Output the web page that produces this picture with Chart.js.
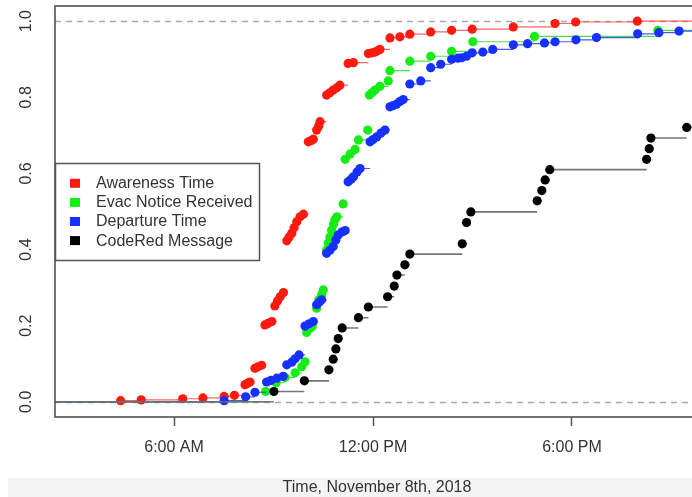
<!DOCTYPE html>
<html><head><meta charset="utf-8">
<script src="https://cdn.jsdelivr.net/npm/chart.js@4/dist/chart.umd.min.js"></script>
<style>
html,body{margin:0;padding:0;background:#fff;overflow:hidden;width:692px;height:497px;}
#wrap{position:absolute;left:0;top:0;width:720px;height:497px;}
</style></head><body>
<div id="wrap"><canvas id="c" width="720" height="497"></canvas></div>
<script>
// ---- data (time in decimal hours, Nov 8th 2018; value = cumulative share) ----
const seriesNames = ['Awareness Time', 'Evac Notice Received', 'Departure Time', 'CodeRed Message'];

const awarenessTimes = [4.39,5.01,6.26,6.87,7.51,7.82,8.14,8.22,8.29,8.44,8.53,8.64,8.74,8.83,8.95,9.04,9.12,9.20,9.30,
  9.40,9.47,9.55,9.62,9.70,9.80,9.90,10.05,10.13,10.20,10.30,10.36,10.40,10.60,10.70,10.80,10.91,11.00,11.25,11.41,
  11.86,11.97,12.06,12.15,12.21,12.51,12.81,13.11,13.74,14.37,14.99,16.23,17.49,18.11,19.97];
const awarenessShare = [0.003,0.005,0.008,0.010,0.014,0.017,0.045,0.049,0.052,0.088,0.092,0.096,0.202,0.206,0.211,0.252,0.265,0.276,0.287,
  0.423,0.433,0.443,0.457,0.473,0.486,0.493,0.683,0.686,0.690,0.714,0.724,0.736,0.806,0.812,0.819,0.825,0.832,0.889,0.891,
  0.915,0.917,0.919,0.923,0.926,0.956,0.959,0.966,0.972,0.976,0.979,0.985,0.994,0.998,1.000];

const evacTimes = [8.76,9.08,9.35,9.65,9.85,9.95,10.00,10.10,10.16,10.30,10.37,10.45,10.50,
  10.60,10.65,10.70,10.75,10.81,10.85,10.91,11.10,11.16,11.31,11.46,11.56,11.84,11.89,11.97,12.06,12.21,12.46,
  12.51,13.11,13.74,14.37,15.01,16.87,20.59];
const evacShare = [0.027,0.050,0.064,0.076,0.092,0.105,0.182,0.193,0.197,0.246,0.268,0.281,0.294,
  0.399,0.417,0.433,0.451,0.467,0.478,0.486,0.520,0.637,0.651,0.663,0.688,0.714,0.806,0.812,0.819,0.829,0.843,
  0.870,0.895,0.908,0.921,0.946,0.960,0.976];

const departureTimes = [7.51,8.16,8.44,8.79,8.92,9.10,9.29,9.40,9.55,9.65,9.77,9.95,10.07,10.20,10.30,10.37,10.45,
  10.60,10.70,10.80,10.88,10.95,11.06,11.16,11.25,11.34,11.41,11.52,11.61,11.91,12.00,12.11,12.24,12.36,
  12.51,12.60,12.71,12.81,12.91,13.11,13.44,13.74,14.04,14.37,14.56,14.67,14.82,14.99,15.31,15.61,16.23,16.66,
  17.17,17.49,18.12,18.74,19.98,20.62,21.23];
const departureShare = [0.003,0.013,0.025,0.052,0.056,0.062,0.067,0.097,0.104,0.113,0.123,0.199,0.205,0.211,0.255,0.261,0.268,
  0.390,0.398,0.408,0.425,0.438,0.446,0.450,0.578,0.585,0.591,0.604,0.613,0.683,0.689,0.696,0.706,0.714,
  0.775,0.778,0.782,0.789,0.794,0.835,0.843,0.878,0.887,0.900,0.903,0.904,0.908,0.917,0.919,0.926,0.938,0.941,
  0.943,0.946,0.951,0.957,0.967,0.970,0.974];

const coderedTimes = [9.01,9.93,10.67,10.80,10.88,10.95,11.07,11.56,11.86,12.44,12.64,12.72,12.96,13.11,14.69,14.82,14.95,
  16.95,17.09,17.19,17.33,20.25,20.33,20.38,21.46];
const coderedShare = [0.027,0.055,0.084,0.112,0.139,0.166,0.194,0.221,0.249,0.276,0.304,0.333,0.360,0.388,0.415,0.471,0.499,
  0.528,0.555,0.583,0.610,0.637,0.665,0.693,0.721];

const xTickHours = [6, 12, 18];
const xTickLabels = ['6:00 AM', '12:00 PM', '6:00 PM'];
const yTickValues = [0, 0.2, 0.4, 0.6, 0.8, 1.0];
const yTickLabels = ['0.0', '0.2', '0.4', '0.6', '0.8', '1.0'];
const xAxisTitle = 'Time, November 8th, 2018';
const refLines = [0, 1];

// ---- styling ----
const X_MIN = 2.41, X_MAX = 21.83;
const FONT = '"Liberation Sans", Arial, Helvetica, sans-serif';
const pointColors = ['#ff1a10', '#16ec16', '#1530ff', '#000000'];
const lineColors = ['rgba(255,70,70,0.85)', 'rgba(40,220,40,0.85)', 'rgba(40,60,255,0.85)', 'rgba(110,110,110,0.95)'];
const lineWidths = [1.2, 1.2, 1.2, 1.6];
const layerOrder = [4, 3, 2, 1];

function stepSegments(xs, ys) {
  const out = [];
  const n = xs.length;
  out.push({x: X_MIN, y: 0}, {x: xs[0], y: 0}, {x: xs[0], y: null});
  for (let i = 0; i < n; i++) {
    const xEnd = i < n - 1 ? xs[i + 1] : X_MAX;
    out.push({x: xs[i], y: ys[i]}, {x: xEnd, y: ys[i]}, {x: xEnd, y: null});
  }
  return out;
}
function pts(xs, ys) { return xs.map((x, i) => ({x: x, y: ys[i]})); }

const allTimes = [awarenessTimes, evacTimes, departureTimes, coderedTimes];
const allShares = [awarenessShare, evacShare, departureShare, coderedShare];

const datasets = [];
for (let s = 0; s < 4; s++) {
  datasets.push({
    type: 'line', label: seriesNames[s] + ' steps', data: stepSegments(allTimes[s], allShares[s]),
    borderColor: lineColors[s], borderWidth: lineWidths[s], pointRadius: 0, spanGaps: false,
    fill: false, tension: 0, order: layerOrder[s] + 0.5
  });
  datasets.push({
    type: 'scatter', label: seriesNames[s], data: pts(allTimes[s], allShares[s]),
    backgroundColor: pointColors[s], borderWidth: 0, pointRadius: 4.6, order: layerOrder[s]
  });
}

const decor = {
  id: 'decor',
  beforeDraw(chart) {
    const ctx = chart.ctx;
    ctx.save();
    ctx.fillStyle = '#f4f4f4';
    ctx.fillRect(8, 478, chart.width, 30);
    ctx.restore();
  },
  beforeDatasetsDraw(chart) {
    const ctx = chart.ctx, a = chart.chartArea, y = chart.scales.y;
    ctx.save();
    ctx.beginPath(); ctx.rect(a.left, a.top, a.right - a.left, a.bottom - a.top); ctx.clip();
    ctx.strokeStyle = '#a8a8a8'; ctx.lineWidth = 1.5; ctx.setLineDash([6, 5]);
    refLines.forEach(v => {
      const py = Math.round(y.getPixelForValue(v)) + 0.5;
      ctx.beginPath(); ctx.moveTo(a.left, py); ctx.lineTo(a.right, py); ctx.stroke();
    });
    ctx.restore();
  },
  afterDatasetsDraw(chart) {
    const ctx = chart.ctx, a = chart.chartArea, y = chart.scales.y;
    ctx.save();
    ctx.strokeStyle = '#505050'; ctx.lineWidth = 1.6;
    ctx.strokeRect(a.left, a.top, a.right - a.left, a.bottom - a.top);
    ctx.fillStyle = '#333'; ctx.font = '16px ' + FONT;
    ctx.textAlign = 'center'; ctx.textBaseline = 'middle';
    yTickValues.forEach((v, i) => {
      const py = y.getPixelForValue(v);
      ctx.save(); ctx.translate(27, py); ctx.rotate(-Math.PI / 2);
      ctx.fillText(yTickLabels[i], 0, 0); ctx.restore();
    });
    const lx = 55, ly = 163, lw = 204, lh = 97;
    ctx.fillStyle = '#fff'; ctx.fillRect(lx, ly, lw, lh);
    ctx.strokeStyle = '#555'; ctx.lineWidth = 1.5; ctx.strokeRect(lx + 0.5, ly + 0.5, lw, lh);
    ctx.textAlign = 'left';
    seriesNames.forEach((name, i) => {
      const ry = 183.3 + i * 19.1;
      ctx.fillStyle = pointColors[i];
      ctx.fillRect(70, ry - 4.5, 10, 9);
      ctx.fillStyle = '#333';
      ctx.fillText(name, 96, ry + 0.5);
    });
    ctx.restore();
  }
};

new Chart(document.getElementById('c'), {
  data: { datasets: datasets },
  options: {
    responsive: false, animation: false, events: [],
    layout: { padding: { top: 6, right: 21, left: 0, bottom: 0 } },
    plugins: { legend: { display: false }, tooltip: { enabled: false } },
    scales: {
      x: {
        type: 'linear', min: X_MIN, max: X_MAX,
        afterBuildTicks: sc => { sc.ticks = xTickHours.map(v => ({value: v})); },
        afterFit: sc => { sc.height = 80; },
        ticks: {
          callback: v => xTickLabels[xTickHours.indexOf(v)],
          font: { size: 16, family: FONT }, color: '#333', padding: 12, maxRotation: 0, autoSkip: false
        },
        grid: { drawOnChartArea: false, drawTicks: true, tickLength: 9, color: '#555', tickWidth: 1.5 },
        border: { display: false },
        title: { display: true, text: xAxisTitle, font: { size: 16, family: FONT }, color: '#333', padding: { top: 0, bottom: 0 } }
      },
      y: {
        type: 'linear', min: -0.04, max: 1.04,
        afterFit: sc => { sc.width = 55; },
        ticks: { display: false },
        grid: { display: false },
        border: { display: false }
      }
    }
  },
  plugins: [decor]
});
</script>
</body></html>
